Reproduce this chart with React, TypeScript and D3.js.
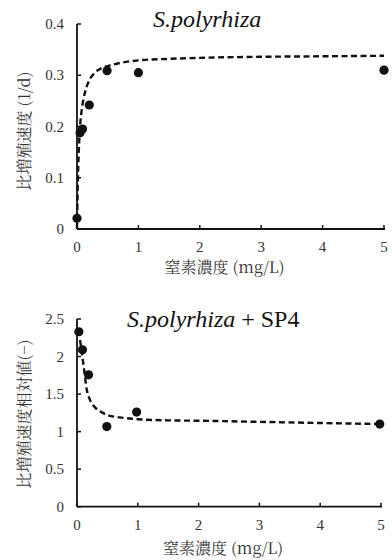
import React from "react";
import * as d3 from "d3";

// ---- Data ----
const topTitle = "S.polyrhiza";
const bottomTitleItalic = "S.polyrhiza";
const bottomTitleRest = " + SP4";
const xLabel = "窒素濃度 (mg/L)";
const topYLabel = "比増殖速度 (1/d)";
const bottomYLabel = "比増殖速度相対値(−)";

const xTicks = [0, 1, 2, 3, 4, 5];
const topYTicks = [0, 0.1, 0.2, 0.3, 0.4];
const bottomYTicks = [0, 0.5, 1, 1.5, 2, 2.5];

// observed points (top)
const topPtsX = [0, 0.05, 0.09, 0.2, 0.49, 1, 5];
const topPtsY = [0.021, 0.188, 0.195, 0.242, 0.309, 0.305, 0.31];
// fitted curve (top)
const topCurveX = [0, 0.005, 0.01, 0.02, 0.03, 0.05, 0.08, 0.1, 0.15, 0.2, 0.3, 0.4, 0.5, 0.7, 1, 1.5, 2, 3, 4, 5];
const topCurveY = [0, 0.04, 0.07, 0.12, 0.155, 0.2, 0.235, 0.25, 0.275, 0.29, 0.306, 0.314, 0.318, 0.324, 0.329, 0.332, 0.334, 0.336, 0.337, 0.338];

// observed points (bottom)
const botPtsX = [0.03, 0.09, 0.19, 0.49, 0.98, 4.98];
const botPtsY = [2.33, 2.09, 1.756, 1.067, 1.26, 1.1];
// fitted curve (bottom)
const botCurveX = [0.05, 0.08, 0.1, 0.13, 0.16, 0.2, 0.25, 0.3, 0.4, 0.5, 0.7, 1, 1.5, 2, 3, 4, 5];
const botCurveY = [2.22, 2.05, 1.93, 1.74, 1.56, 1.45, 1.37, 1.32, 1.26, 1.22, 1.19, 1.165, 1.15, 1.145, 1.13, 1.115, 1.1];

const numFont = "'Liberation Serif', serif";
const cjkFont = "'Noto Serif CJK JP', serif";
const titleFont = "'Liberation Serif', serif";
const ink = "#111";
const txt = "#333";

type PanelProps = {
  x0: number; x1: number; y0: number; y1: number;
  yMax: number; yTicks: number[]; yFmt: (v: number) => string;
  ptsX: number[]; ptsY: number[]; cX: number[]; cY: number[];
  yLabel: string; yLabelCenter: number; xLabelY: number; xTickY: number;
};

function Panel(p: PanelProps) {
  const xs = d3.scaleLinear().domain([0, 5]).range([p.x0, p.x1]);
  const ys = d3.scaleLinear().domain([0, p.yMax]).range([p.y0, p.y1]);
  const line = d3.line<number>()
    .x((_, i) => xs(p.cX[i]))
    .y((d) => ys(d))
    .curve(d3.curveMonotoneX);
  return (
    <g>
      <path d={line(p.cY) || ""} fill="none" stroke={ink} strokeWidth={2.4} strokeDasharray="6,3.5" />
      <line x1={p.x0} x2={p.x1 + 1} y1={p.y0} y2={p.y0} stroke={ink} strokeWidth={1.8} />
      <line x1={p.x0} x2={p.x0} y1={p.y0} y2={ys(p.yMax)} stroke={ink} strokeWidth={1.8} />
      {xTicks.map((t) => (
        <g key={"x" + t}>
          <line x1={xs(t)} x2={xs(t)} y1={p.y0} y2={p.y0 - 4} stroke={ink} strokeWidth={1.5} />
          <text x={xs(t)} y={p.xTickY} textAnchor="middle" style={{ fontFamily: numFont }} fontSize={15} fill={txt}>{t}</text>
        </g>
      ))}
      {p.yTicks.map((t) => (
        <g key={"y" + t}>
          <line x1={p.x0} x2={p.x0 + 4} y1={ys(t)} y2={ys(t)} stroke={ink} strokeWidth={1.5} />
          <text x={64} y={ys(t) + 5} textAnchor="end" style={{ fontFamily: numFont }} fontSize={15} fill={txt}>{p.yFmt(t)}</text>
        </g>
      ))}
      {p.ptsX.map((x, i) => (
        <circle key={"p" + i} cx={xs(x)} cy={ys(p.ptsY[i])} r={4.6} fill={ink} />
      ))}
      <text transform={`translate(30,${p.yLabelCenter}) rotate(-90)`} textAnchor="middle" style={{ fontFamily: cjkFont }} fontSize={16} fill={txt}>{p.yLabel}</text>
      <text x={(p.x0 + p.x1) / 2 - 6} y={p.xLabelY} textAnchor="middle" style={{ fontFamily: cjkFont }} fontSize={16} fill={txt}>{xLabel}</text>
    </g>
  );
}

export default function App() {
  return (
    <svg width={392} height={560} style={{ position: "absolute", left: 0, top: 0, background: "#fff" }}>
      <rect width={392} height={560} fill="#fff" />
      <text x={153} y={27} style={{ fontFamily: titleFont }} fontStyle="italic" fontSize={24} fill={ink}>{topTitle}</text>
      <Panel x0={77} x1={384} y0={229} y1={24} yMax={0.4} yTicks={topYTicks} yFmt={(v) => (v === 0 ? "0" : d3.format(".1f")(v))}
        ptsX={topPtsX} ptsY={topPtsY} cX={topCurveX} cY={topCurveY}
        yLabel={topYLabel} yLabelCenter={131} xLabelY={273} xTickY={252} />
      <text x={127} y={327} style={{ fontFamily: titleFont }} fontSize={24} fill={ink}>
        <tspan fontStyle="italic">{bottomTitleItalic}</tspan>
        <tspan>{bottomTitleRest}</tspan>
      </text>
      <Panel x0={77} x1={381} y0={506.7} y1={319} yMax={2.5} yTicks={bottomYTicks} yFmt={(v) => String(v)}
        ptsX={botPtsX} ptsY={botPtsY} cX={botCurveX} cY={botCurveY}
        yLabel={bottomYLabel} yLabelCenter={414} xLabelY={554} xTickY={530} />
    </svg>
  );
}
